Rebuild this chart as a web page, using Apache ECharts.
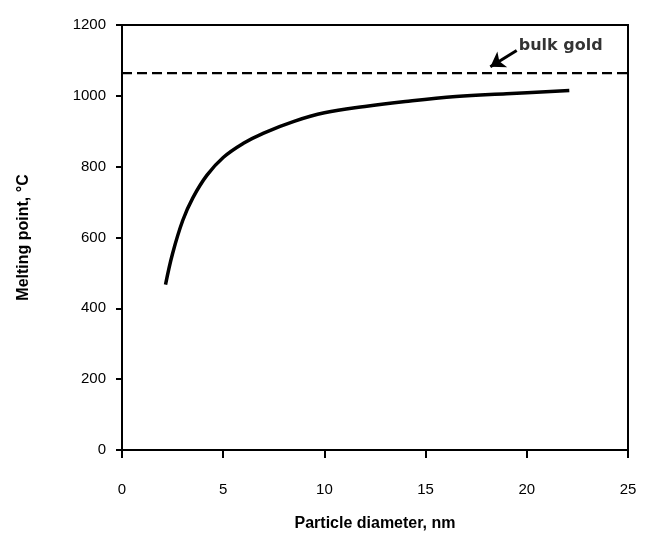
<!DOCTYPE html>
<html>
<head>
<meta charset="utf-8">
<script src="https://cdn.jsdelivr.net/npm/echarts@6/dist/echarts.min.js"></script>
<style>html,body{margin:0;padding:0;background:#fff}#c{width:647px;height:537px}</style>
</head>
<body>
<div id="c"></div>
<script>
const diameters = [2.15, 2.5, 3, 3.5, 4.2, 5, 6, 7, 8.5, 10, 12, 14, 16.5, 19, 22.1];
const meltingPoints = [467, 555, 648, 712, 776, 826, 866, 895, 928, 952, 970, 984, 998, 1006, 1015];
const bulkGold = 1064;
const xTicks = [0, 5, 10, 15, 20, 25];
const yTicks = [0, 200, 400, 600, 800, 1000, 1200];
const annotationText = 'bulk gold';
const arrowFrom = [19.5, 1128];
const arrowTo = [18.2, 1082];
const labelPos = [19.6, 1140];

const chart = echarts.init(document.getElementById('c'));
const font = 'Liberation Sans, Arial, sans-serif';
chart.setOption({
  animation: false,
  grid: { left: 122, right: 19, top: 25, bottom: 83, show: true, borderColor: '#000', borderWidth: 2, backgroundColor: 'transparent' },
  xAxis: {
    type: 'value', min: xTicks[0], max: xTicks[xTicks.length - 1], interval: xTicks[1] - xTicks[0],
    name: 'Particle diameter, nm', nameLocation: 'middle', nameGap: 66,
    nameTextStyle: { fontFamily: font, fontWeight: 'bold', fontSize: 16, color: '#000' },
    axisLine: { lineStyle: { color: '#000', width: 2 } },
    axisTick: { show: true, length: 8, inside: false, lineStyle: { color: '#000', width: 2 } },
    axisLabel: { fontFamily: font, fontSize: 15, color: '#000', margin: 32, formatter: v => String(v) },
    splitLine: { show: false }
  },
  yAxis: {
    type: 'value', min: yTicks[0], max: yTicks[yTicks.length - 1], interval: yTicks[1] - yTicks[0],
    name: 'Melting point, °C', nameLocation: 'middle', nameGap: 90, nameRotate: 90,
    nameTextStyle: { fontFamily: font, fontWeight: 'bold', fontSize: 16, color: '#000' },
    axisLine: { lineStyle: { color: '#000', width: 2 } },
    axisTick: { show: true, length: 6, inside: false, lineStyle: { color: '#000', width: 2 } },
    axisLabel: { fontFamily: font, fontSize: 15, color: '#000', margin: 16, formatter: v => String(v) },
    splitLine: { show: false }
  },
  series: [
    {
      type: 'line', smooth: 0.4, symbol: 'none',
      data: diameters.map((d, i) => [d, meltingPoints[i]]),
      lineStyle: { color: '#000', width: 3.5 }
    },
    {
      type: 'line', symbol: 'none',
      data: [[xTicks[0], bulkGold], [xTicks[xTicks.length - 1], bulkGold]],
      lineStyle: { color: '#000', width: 2.2, type: [10, 5] }
    },
    {
      type: 'line', symbol: 'none', data: [],
      markLine: {
        silent: true, symbol: ['none', 'arrow'], symbolSize: [14, 14],
        lineStyle: { color: '#000', width: 3, type: 'solid' },
        label: { show: false },
        data: [[{ coord: arrowFrom }, { coord: arrowTo }]]
      }
    },
    {
      type: 'scatter', symbolSize: 0,
      data: [labelPos],
      label: { show: true, position: 'right', distance: 0, formatter: annotationText,
        fontFamily: 'DejaVu Sans, sans-serif', fontWeight: 'bold', fontSize: 16, color: '#000' }
    }
  ]
});
</script>
</body>
</html>
